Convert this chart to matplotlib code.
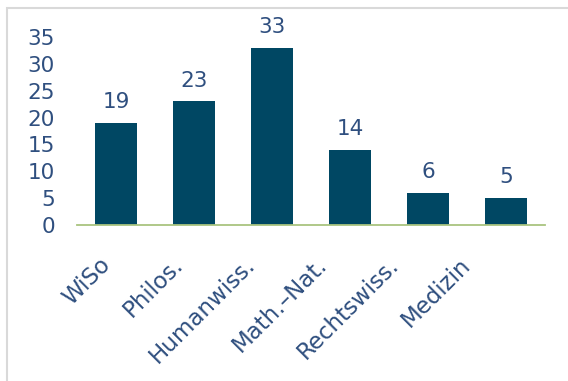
import matplotlib.pyplot as plt
from matplotlib.patches import Rectangle

categories = ['WiSo', 'Philos.', 'Humanwiss.', 'Math.–Nat.', 'Rechtswiss.', 'Medizin']
values = [19, 23, 33, 14, 6, 5]
yticks = [0, 5, 10, 15, 20, 25, 30, 35]

bar_color = '#004763'
text_color = '#2F4F7F'
base_color = '#A9C47F'

plt.rcParams['font.family'] = ['DejaVu Sans']

fig = plt.figure(figsize=(5.68, 3.81), dpi=100)
fig.patches.append(Rectangle((7 / 568, -0.1), 1.2, 1 - 8 / 381 + 0.1,
                             transform=fig.transFigure, fill=False,
                             edgecolor='#D9D9D9', linewidth=1.5))
ax = fig.add_axes([77 / 568, 1 - 225 / 381, 468 / 568, (225 - 37) / 381])

x = range(len(categories))
bars = ax.bar(x, values, width=0.53, color=bar_color)
for xi, v in zip(x, values):
    ax.text(xi, v + 2.0, str(v), ha='center', va='bottom', fontsize=15.5,
            color=text_color)

ax.set_xlim(-0.5, len(categories) - 0.5)
ax.set_ylim(0, 35)
ax.set_yticks(yticks)
ax.set_xticks(list(x))
ax.set_xticklabels([])
# category labels, drifting slightly left of the bars as in the original
for i, name in enumerate(categories):
    ax.annotate(name, xy=(i, 0), xycoords='data',
                xytext=(-17 - 6 * i, -28), textcoords='offset pixels',
                rotation=45, rotation_mode='anchor', ha='right', va='top',
                fontsize=16.5, color=text_color, annotation_clip=False)
ax.tick_params(axis='y', length=0, labelsize=15.5, labelcolor=text_color, pad=16)
ax.tick_params(axis='x', length=0)
for s in ['top', 'right', 'left']:
    ax.spines[s].set_visible(False)
ax.spines['bottom'].set_color(base_color)
ax.spines['bottom'].set_linewidth(1.3)

fig.savefig('out.png', dpi=100)
